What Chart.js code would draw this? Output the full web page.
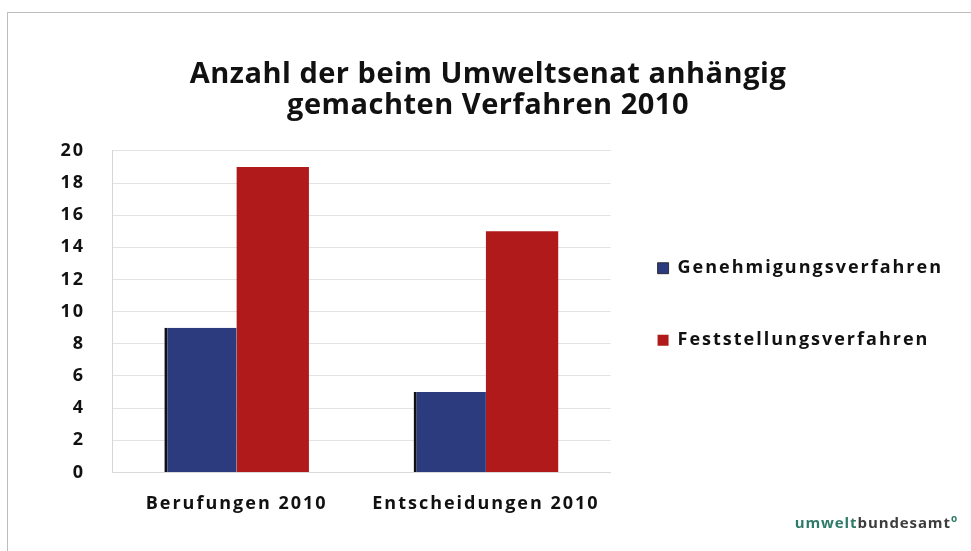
<!DOCTYPE html>
<html>
<head>
<meta charset="utf-8">
<script src="https://cdn.jsdelivr.net/npm/chart.js@4"></script>
<style>
  html, body { margin: 0; padding: 0; background: #fff; }
  body { width: 971px; height: 551px; position: relative; overflow: hidden; }
  #frame {
    position: absolute; left: 7px; top: 12px; width: 972px; height: 545px;
    border: 1px solid #bdbdbd; box-sizing: border-box;
  }
  #wrap { position: absolute; left: 5px; top: 12px; width: 966px; height: 539px; }
  #logo {
    position: absolute; right: 13px; bottom: 19px;
    font-family: 'Open Sans', sans-serif; font-weight: 700; font-size: 15px;
    letter-spacing: 0.9px;
  }
  #logo .a { color: #2e7a68; }
  #logo .b { color: #3c3c3c; }
  #logo sup { color: #2e7a68; font-size: 10px; }
</style>
</head>
<body>
<div id="frame"></div>
<div id="wrap"><canvas id="chart"></canvas></div>
<div id="logo"><span class="a">umwelt</span><span class="b">bundesamt</span><sup>o</sup></div>
<script>
// ── DATA ───────────────────────────────────────────────────────
const categories = ['Berufungen 2010', 'Entscheidungen 2010'];
const genehmigung = [9, 5];
const feststellung = [19, 15];
const titleLines = ['Anzahl der beim Umweltsenat anhängig', 'gemachten Verfahren 2010'];

const FONT = "'Open Sans', 'DejaVu Sans', sans-serif";
const WIDE = '2px';

// the scanned slide has widely spaced lettering, except the title
const spacing = {
  id: 'spacing',
  beforeUpdate(chart) { chart.ctx.letterSpacing = WIDE; },
  beforeDraw(chart) {
    chart.ctx.letterSpacing = WIDE;
    const tb = chart.titleBlock;
    if (tb && !tb._wrapped) {
      const orig = tb.draw;
      tb.draw = function (...a) {
        const ctx = this.ctx;
        ctx.save();
        ctx.letterSpacing = '0.5px';
        orig.apply(this, a);
        ctx.restore();
      };
      tb._wrapped = true;
    }
  },
};

new Chart(document.getElementById('chart'), {
  type: 'bar',
  data: {
    labels: categories,
    datasets: [
      {
        label: 'Genehmigungsverfahren',
        data: genehmigung,
        backgroundColor: '#2c3b7d',
        borderColor: '#111111',
        borderWidth: { left: 3, top: 0, right: 0, bottom: 0 },
        borderSkipped: false,
      },
      {
        label: 'Feststellungsverfahren',
        data: feststellung,
        backgroundColor: '#b11a1b',
        borderWidth: 0,
      },
    ],
  },
  plugins: [spacing],
  options: {
    responsive: true,
    maintainAspectRatio: false,
    animation: false,
    categoryPercentage: 0.58,
    barPercentage: 1,
    layout: { padding: { top: 48, left: 18, right: 18, bottom: 23 } },
    scales: {
      x: {
        grid: { display: false },
        border: { color: '#d9d9d9' },
        ticks: { color: '#111', padding: 13, font: { family: FONT, size: 18, weight: 'bold' } },
      },
      y: {
        min: 0,
        max: 20,
        afterFit: s => { s.width = 89; },
        ticks: { stepSize: 2, color: '#111', padding: 27, font: { family: FONT, size: 18, weight: 'bold' } },
        grid: { color: '#e3e3e3', drawTicks: false },
        border: { color: '#d6d6d6' },
      },
      // empty gap between plot and legend
      gap: {
        type: 'linear',
        position: 'right',
        afterFit: s => { s.width = 37; },
        ticks: { display: false },
        grid: { display: false },
        border: { display: false },
      },
    },
    plugins: {
      title: {
        display: true,
        text: titleLines,
        color: '#111',
        font: { family: FONT, size: 29, weight: 'bold', lineHeight: 1.05 },
        padding: { top: 0, bottom: 30 },
      },
      legend: {
        position: 'right',
        align: 'center',
        maxWidth: 420,
        // blank title only pushes the items down a little
        title: { display: true, text: ' ', padding: { top: 0, bottom: 38 }, font: { size: 22 } },
        labels: {
          color: '#111',
          boxWidth: 11,
          boxHeight: 11,
          padding: 10,
          font: { family: FONT, size: 18, weight: 'bold', lineHeight: '62px' },
          // array text so the font lineHeight sets the item spacing
          generateLabels: chart => Chart.defaults.plugins.legend.labels.generateLabels(chart)
            .map(l => Object.assign(l, { text: [l.text] })),
        },
      },
      tooltip: { enabled: false },
    },
  },
});
</script>
</body>
</html>
